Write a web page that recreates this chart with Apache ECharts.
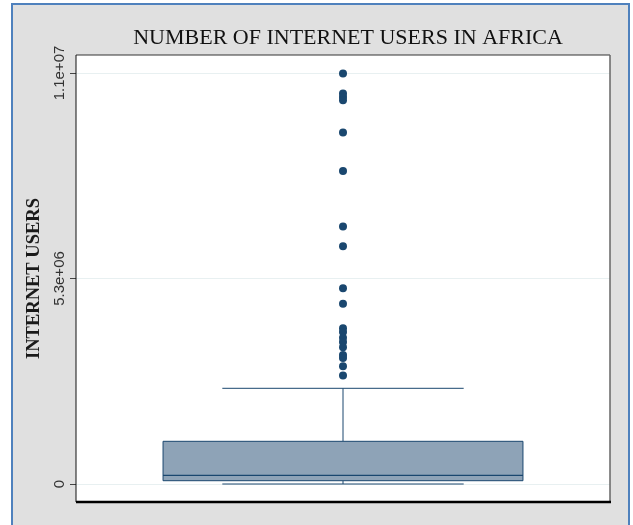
<!DOCTYPE html>
<html>
<head>
<meta charset="utf-8">
<style>
  html, body { margin: 0; padding: 0; background: #ffffff; }
  #chart { width: 633px; height: 525px; }
</style>
<script src="https://cdn.jsdelivr.net/npm/echarts@6/dist/echarts.min.js"></script>
</head>
<body>
<div id="chart"></div>
<script>
// Internet users per African country: box summary and outside values
const categories = ['Internet users'];
const boxStats = [[0, 85000, 224000, 1101000, 2468000]]; // [low whisker, Q1, median, Q3, high whisker]
const outliers = [
  10590000, 10070000, 9980000, 9900000, 9065000, 8070000,
  6640000, 6130000, 5050000, 4650000, 4020000, 3920000,
  3770000, 3660000, 3530000, 3330000, 3250000, 3040000, 2800000
];
const tickValues = [0, 5300000, 10600000];
const tickLabels = ['0', '5.3e+06', '1.1e+07'];

const NAVY = '#1a476f';
const chart = echarts.init(document.getElementById('chart'), null, { renderer: 'canvas' });

// plot frame (drawn around the grid, with the Stata-like margins)
const frame = { x0: 76, y0: 55, x1: 610, y1: 502 };

chart.setOption({
  backgroundColor: '#ffffff',
  animation: false,
  title: {
    text: 'NUMBER OF INTERNET USERS IN AFRICA',
    left: 343,
    textAlign: 'center',
    top: 22,
    textStyle: { fontFamily: 'Liberation Serif', fontWeight: 'normal', fontSize: 22, color: '#111' }
  },
  graphic: [
    { type: 'rect', z: -20, silent: true,
      shape: { x: 12, y: 4, width: 617, height: 540 },
      style: { fill: '#e0e0e0', stroke: '#4f81bd', lineWidth: 2 } },
    { type: 'rect', z: -19, silent: true,
      shape: { x: frame.x0, y: frame.y0, width: frame.x1 - frame.x0, height: frame.y1 - frame.y0 },
      style: { fill: '#ffffff' } },
    { type: 'line', z: 50, silent: true,
      shape: { x1: frame.x0, y1: frame.y0, x2: frame.x1, y2: frame.y0 },
      style: { stroke: '#333333', lineWidth: 1 } },
    { type: 'line', z: 50, silent: true,
      shape: { x1: frame.x1, y1: frame.y0, x2: frame.x1, y2: frame.y1 },
      style: { stroke: '#666666', lineWidth: 1.5 } },
    { type: 'line', z: 50, silent: true,
      shape: { x1: frame.x0, y1: frame.y0, x2: frame.x0, y2: frame.y1 },
      style: { stroke: '#111111', lineWidth: 1 } },
    { type: 'line', z: 50, silent: true,
      shape: { x1: frame.x0, y1: frame.y1, x2: frame.x1 + 1, y2: frame.y1 },
      style: { stroke: '#000000', lineWidth: 2.5 } }
  ],
  grid: { left: 76, right: 23, top: 73, bottom: 41, containLabel: false },
  xAxis: {
    type: 'category',
    data: categories,
    show: false
  },
  yAxis: {
    type: 'value',
    min: tickValues[0],
    max: tickValues[tickValues.length - 1],
    interval: tickValues[1] - tickValues[0],
    name: 'INTERNET USERS',
    nameLocation: 'middle',
    nameGap: 31,
    nameRotate: 90,
    nameTextStyle: { fontFamily: 'Liberation Serif', fontWeight: 'bold', fontSize: 18.5, color: '#1a1a1a' },
    axisLine: { show: false },
    axisTick: { show: true, length: 6, lineStyle: { color: '#444', width: 1 } },
    axisLabel: {
      rotate: 90,
      margin: 9,
      fontFamily: 'Liberation Sans',
      fontSize: 15,
      color: '#333',
      formatter: function (v) {
        const i = tickValues.findIndex(t => Math.abs(t - v) < 1);
        return i >= 0 ? tickLabels[i] : '';
      }
    },
    splitLine: { show: true, lineStyle: { color: '#e8f0f1', width: 1 } }
  },
  series: [
    {
      type: 'custom',
      z: 3,
      data: boxStats.map((s, i) => [i].concat(s)),
      encode: { x: 0, y: [1, 2, 3, 4, 5] },
      renderItem: function (params, api) {
        const idx = api.value(0);
        const band = api.size([1, 0])[0];
        const cx = api.coord([idx, 0])[0];
        const yLow = api.coord([idx, api.value(1)])[1];
        const yQ1 = api.coord([idx, api.value(2)])[1];
        const yMed = api.coord([idx, api.value(3)])[1];
        const yQ3 = api.coord([idx, api.value(4)])[1];
        const yHigh = api.coord([idx, api.value(5)])[1];
        const halfBox = band * 0.337;
        const halfCap = band * 0.226;
        const line = { stroke: NAVY, lineWidth: 1 };
        return {
          type: 'group',
          children: [
            { type: 'line', shape: { x1: cx, y1: yQ3, x2: cx, y2: yHigh }, style: line },
            { type: 'line', shape: { x1: cx, y1: yQ1, x2: cx, y2: yLow }, style: line },
            { type: 'line', shape: { x1: cx - halfCap, y1: yHigh, x2: cx + halfCap, y2: yHigh }, style: line },
            { type: 'line', shape: { x1: cx - halfCap, y1: yLow, x2: cx + halfCap, y2: yLow }, style: line },
            { type: 'rect', shape: { x: cx - halfBox, y: yQ3, width: halfBox * 2, height: yQ1 - yQ3 },
              style: { fill: '#8ea3b7', stroke: NAVY, lineWidth: 1 } },
            { type: 'line', shape: { x1: cx - halfBox, y1: yMed, x2: cx + halfBox, y2: yMed },
              style: { stroke: NAVY, lineWidth: 1.2 } }
          ]
        };
      }
    },
    {
      type: 'scatter',
      z: 4,
      symbol: 'circle',
      symbolSize: 8,
      itemStyle: { color: NAVY, opacity: 1 },
      data: outliers.map(v => [0, v])
    }
  ]
});
</script>
</body>
</html>
